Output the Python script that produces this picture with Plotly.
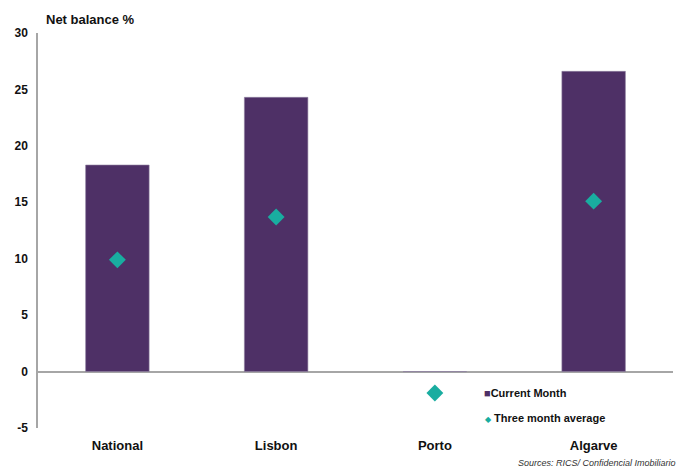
import plotly.graph_objects as go

categories = ["National", "Lisbon", "Porto", "Algarve"]
current_month = [18.3, 24.3, 0, 26.6]
three_month_avg = [9.9, 13.7, -1.9, 15.1]
y_ticks = [-5, 0, 5, 10, 15, 20, 25, 30]
y_tick_text = ["-5", "0", "5", "10", "15", "20", "25", "30"]
series_names = ["Current Month", "Three month average"]

BAR = "#4E3066"
DIA = "#19ADA0"
FONT = "Liberation Sans, Arial, sans-serif"

fig = go.Figure()
fig.add_trace(go.Bar(
    x=categories, y=current_month, name=series_names[0],
    marker=dict(color=BAR, line=dict(color="#8E7FA0", width=0.6)),
    width=0.4, showlegend=False,
))
fig.add_trace(go.Scatter(
    x=categories, y=three_month_avg, name=series_names[1],
    mode="markers", showlegend=False,
    marker=dict(symbol="diamond", color=DIA, size=13),
))

fig.update_layout(
    width=697, height=473,
    margin=dict(l=38, r=24, t=33, b=45),
    plot_bgcolor="white", paper_bgcolor="white",
    font=dict(family=FONT, size=12, color="#111111"),
    showlegend=False,
    bargap=0.6,
)
fig.update_yaxes(
    range=[-5, 30], tickvals=y_ticks, ticktext=y_tick_text, showgrid=False,
    showline=True, linecolor="#A6A6A6", linewidth=1.5,
    zeroline=True, zerolinecolor="#A6A6A6", zerolinewidth=1.5,
    ticks="", tickfont=dict(family=FONT, size=12, weight="bold"),
    ticklabelstandoff=6,
)
fig.update_xaxes(
    showgrid=False, showline=False, ticks="",
    tickfont=dict(family=FONT, size=13, weight="bold"),
    ticklabelstandoff=8,
)
# legend drawn as text entries
legend_items = [
    (f'<span style="color:{BAR}">■</span><b>{series_names[0]}</b>', 393, 482),
    (f'<span style="color:{DIA};font-size:8px">◆</span> <b>{series_names[1]}</b>', 418, 483),
]
for txt, ypix, xpix in legend_items:
    fig.add_annotation(
        text=txt, xref="paper", yref="paper",
        x=(xpix - 38) / 635, y=(428 - ypix) / 395, xanchor="left", yanchor="middle",
        showarrow=False, font=dict(family=FONT, size=11, color="#111111"),
    )
fig.add_annotation(
    text="<b>Net balance %</b>", xref="paper", yref="paper",
    x=0.01, y=1.0, yshift=14, xanchor="left", yanchor="middle",
    showarrow=False, font=dict(family=FONT, size=13, color="#111111"),
)
fig.add_annotation(
    text="<i>Sources: RICS/ Confidencial Imobiliario</i>", xref="paper", yref="paper",
    x=1.0, y=0, yshift=-35, xshift=5, xanchor="right", yanchor="middle",
    showarrow=False, font=dict(family=FONT, size=9, color="#333333"),
)

fig.write_html("out.html")
